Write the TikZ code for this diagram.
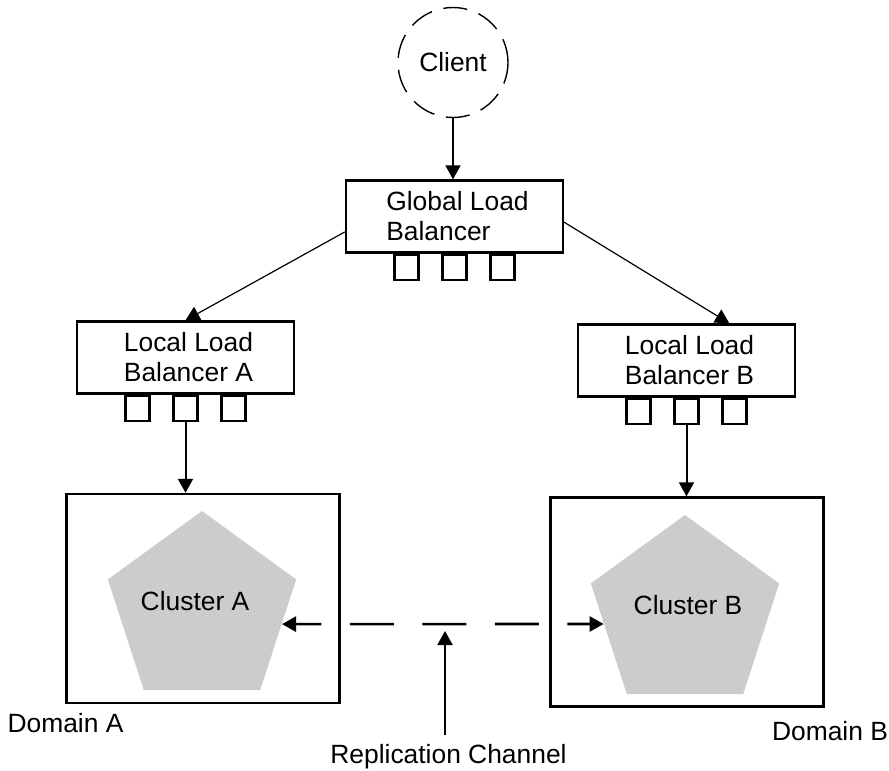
\documentclass[tikz,border=0pt]{standalone}
\usepackage{fontspec}
\setmainfont{Liberation Sans}
\usetikzlibrary{arrows.meta,shapes.geometric,calc}

\begin{document}
\begin{tikzpicture}[x=0.5pt,y=-0.5pt,
  every node/.style={font=\fontsize{13.2}{15}\selectfont},
  lb/.style={draw, line width=1.2pt, minimum width=108.5pt, minimum height=36pt, align=left, inner sep=0pt},
  port/.style={draw, line width=1.2pt, minimum width=12pt, minimum height=12.5pt, inner sep=0pt},
  domainbox/.style={draw, line width=1.2pt, minimum width=136.5pt, minimum height=104.5pt, inner sep=0pt},
  cluster/.style={regular polygon, regular polygon sides=5, minimum size=99pt, inner sep=0pt, fill=greyCL},
  arr/.style={line width=1pt, -{Triangle[length=7pt,width=7.5pt]}},
  thinarr/.style={line width=0.6pt, -{Triangle[length=7pt,width=7.5pt]}},
  txt/.style={inner sep=0pt, anchor=base}]

\definecolor{greyCL}{HTML}{cccccc}

\useasboundingbox (0,0) rectangle (889,771);

\node[circle, draw, line width=0.7pt, dash pattern=on 12pt off 6pt, minimum size=55pt, inner sep=0pt] (client) at (453,62.5) {Client};

\node[lb] (glb) at (454.5,216.5) {\hspace*{3pt}Global Load\\\hspace*{3pt}Balancer};
\node[lb] (llbA) at (185.5,357.5) {\hspace*{3pt}Local Load\\\hspace*{3pt}Balancer A};
\node[lb] (llbB) at (686.5,360.5) {\hspace*{3pt}Local Load\\\hspace*{3pt}Balancer B};

\foreach \i in {1,2,3} {
  \node[port, anchor=north] (glbp\i) at ($(glb.south)+(48*\i-96,0)$) {};
  \node[port, anchor=north] (llbAp\i) at ($(llbA.south)+(48*\i-96,0)$) {};
  \node[port, anchor=north] (llbBp\i) at ($(llbB.south)+(48*\i-96,0)$) {};
}

\node[domainbox] (domA) at (203,598.5) {};
\node[domainbox] (domB) at (687,602) {};
\node[cluster] (pA) at (202,610) {};
\node[cluster] (pB) at (685,614) {};
\node (cA) at (195,601) {Cluster A};
\node (cB) at (688,605) {Cluster B};

\node[txt] (domAl) at (65.5,732) {Domain A};
\node[txt] (domBl) at (830,740) {Domain B};
\node[txt] (rep) at (448.5,763) {Replication Channel};

\draw[arr] (client) -- (client |- glb.north);
\draw[thinarr] (glb.188) -- (llbA.north);
\draw[thinarr] (glb.357) -- (llbB.41);
\draw[arr] (llbAp2.south) -- (llbAp2.south |- domA.north);
\draw[arr] (llbBp2.south) -- (llbBp2.south |- domB.north);

\draw[line width=1.3pt, dash pattern=on 22pt off 14.25pt, dash phase=9pt,
  {Triangle[length=7pt,width=7.5pt]}-{Triangle[length=7pt,width=7.5pt]}] (pA.-10) -- (pB.187.5);
\coordinate (chan) at (445,631);
\draw[arr] ($(rep.north -| chan)+(0,-8)$) -- (chan);
\end{tikzpicture}
\end{document}
